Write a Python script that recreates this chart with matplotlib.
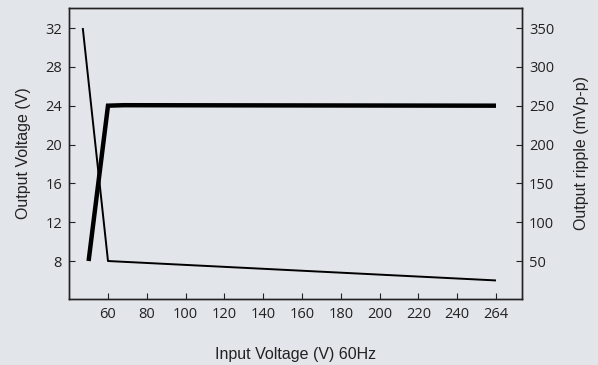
import matplotlib.pyplot as plt

# x tick labels: the last tick reads 264 but sits on the regular 20 V grid
tick_pos = [60, 80, 100, 120, 140, 160, 180, 200, 220, 240, 260]
tick_labels = ['60', '80', '100', '120', '140', '160', '180', '200', '220', '240', '264']

# output voltage (left axis)
volt_x = [50, 60, 68, 260]
volt_y = [8, 24, 24.05, 24]

# output ripple (right axis)
ripple_x = [47, 60, 260]
ripple_y = [350, 50, 25]

bg = '#e2e5ea'
plt.rcParams['font.family'] = ['Liberation Sans Narrow', 'Liberation Sans', 'DejaVu Sans']

fig = plt.figure(figsize=(5.98, 3.65), dpi=100, facecolor=bg)
ax = fig.add_axes([69 / 598, 1 - 299 / 365, (522 - 69) / 598, (299 - 8) / 365])
ax.set_facecolor(bg)
ax2 = ax.twinx()

ax.plot(volt_x, volt_y, color='black', lw=3.2, solid_capstyle='butt', solid_joinstyle='miter')
ax2.plot(ripple_x, ripple_y, color='black', lw=1.4, solid_capstyle='butt')

ax.set_xlim(39.9, 273.4)
ax.set_ylim(4.09, 34.06)
ax2.set_ylim(1.1, 375.8)

ax.set_xticks(tick_pos)
ax.set_xticklabels(tick_labels)
ax.set_yticks([8, 12, 16, 20, 24, 28, 32])
ax2.set_yticks([50, 100, 150, 200, 250, 300, 350])

for a in (ax, ax2):
    a.tick_params(direction='in', length=4, width=0.8, color='#222222', pad=5)
    for lab in a.get_xticklabels() + a.get_yticklabels():
        lab.set_fontfamily(['Open Sans', 'DejaVu Sans'])
        lab.set_fontsize(10.5)
        lab.set_color('#222222')
    for s in a.spines.values():
        s.set_linewidth(1.0)
        s.set_color('#222222')
ax.tick_params(axis='x', pad=6)

ax.set_xlabel('Input Voltage (V) 60Hz', fontsize=11.5, labelpad=18, color='#222222')
ax.set_ylabel('Output Voltage (V)', fontsize=11.5, labelpad=10, color='#222222')
ax2.set_ylabel('Output ripple (mVp-p)', fontsize=11.5, labelpad=14, color='#222222')

fig.savefig('out.png', dpi=100, facecolor=bg)
